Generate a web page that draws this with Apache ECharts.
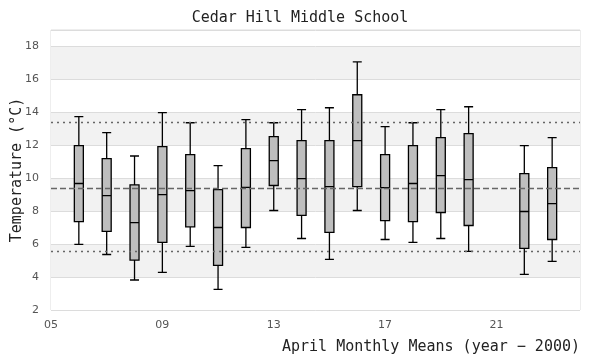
<!DOCTYPE html>
<html>
<head>
<meta charset="utf-8">
<script src="https://cdn.jsdelivr.net/npm/echarts@6/dist/echarts.min.js"></script>
<style>html,body{margin:0;padding:0;background:#fff}#c{width:600px;height:360px}</style>
</head>
<body>
<div id="c"></div>
<script>
const years   = [6, 7, 8, 9, 10, 11, 12, 13, 14, 15, 16, 17, 18, 19, 20, 22, 23];
const maxs    = [13.74, 12.77, 11.35, 13.98, 13.37, 10.77, 13.56, 13.37, 14.16, 14.28, 17.07, 13.13, 13.37, 14.16, 14.34, 11.98, 12.46];
const q3s     = [11.98, 11.19, 9.60, 11.92, 11.43, 9.31, 11.80, 12.53, 12.28, 12.28, 15.07, 11.43, 11.98, 12.46, 12.71, 10.28, 10.65];
const medians = [9.68, 8.95, 7.31, 9.01, 9.25, 7.01, 9.45, 11.07, 9.98, 9.49, 12.28, 9.43, 9.68, 10.16, 9.92, 7.98, 8.46];
const q1s     = [7.37, 6.77, 5.03, 6.10, 7.05, 4.71, 7.01, 9.56, 7.74, 6.71, 9.49, 7.43, 7.37, 7.92, 7.13, 5.74, 6.28];
const mins    = [5.98, 5.37, 3.82, 4.28, 5.86, 3.25, 5.80, 8.04, 6.34, 5.07, 8.04, 6.28, 6.10, 6.34, 5.56, 4.16, 4.95];
const meanLine = 9.37;
const upperLine = 13.38;
const lowerLine = 5.57;

const mono = 'DejaVu Sans Mono';
const boxData = years.map((y, i) => [y, mins[i], q1s[i], medians[i], q3s[i], maxs[i]]);

const chart = echarts.init(document.getElementById('c'));
chart.setOption({
  animation: false,
  title: {
    text: 'Cedar Hill Middle School',
    left: 'center', top: 6,
    textStyle: { fontFamily: mono, fontSize: 15, fontWeight: 'normal', color: '#222' }
  },
  grid: { left: 51, right: 20, top: 30, bottom: 50, show: true, borderColor: '#dcdcdc', borderWidth: 1,
    containLabel: false, outerBoundsMode: 'none' },
  xAxis: {
    type: 'value', min: 5, max: 24, interval: 4,
    name: 'April Monthly Means (year \u2212 2000)',
    nameLocation: 'end', nameGap: 0,
    nameTextStyle: { fontFamily: mono, fontSize: 15, color: '#222', align: 'right', verticalAlign: 'top', padding: [30, 0, 0, 0] },
    axisLine: { show: false }, axisTick: { show: false },
    splitLine: { show: false },
    axisLabel: { showMaxLabel: false, color: '#555', fontSize: 11, fontFamily: 'DejaVu Sans', margin: 10,
      formatter: v => String(v).padStart(2, '0') }
  },
  yAxis: {
    type: 'value', min: 2, max: 19, interval: 2,
    name: 'Temperature (\u00B0C)', nameLocation: 'middle', nameGap: 26, nameMoveOverlap: false,
    nameTextStyle: { fontFamily: mono, fontSize: 15, color: '#222' },
    axisLine: { show: false }, axisTick: { show: false },
    axisLabel: { showMaxLabel: false, color: '#555', fontSize: 11, fontFamily: 'DejaVu Sans', margin: 12 },
    splitLine: { show: true, lineStyle: { color: '#dcdcdc', width: 1 } },
    splitArea: { show: true, areaStyle: { color: ['#ffffff', '#f2f2f2'] } }
  },
  series: [{
    type: 'boxplot',
    layout: 'horizontal',
    data: boxData,
    boxWidth: [9, 9],
    itemStyle: { color: '#bebebe', borderColor: '#000', borderWidth: 1.3 },
    markLine: {
      silent: true, symbol: 'none',
      label: { show: false },
      data: [
        { yAxis: meanLine, lineStyle: { type: [6, 3], color: '#666', width: 1.3 } },
        { yAxis: upperLine, lineStyle: { type: [2, 4], color: '#666', width: 1.3 } },
        { yAxis: lowerLine, lineStyle: { type: [2, 4], color: '#666', width: 1.3 } }
      ]
    }
  }]
});
</script>
</body>
</html>
